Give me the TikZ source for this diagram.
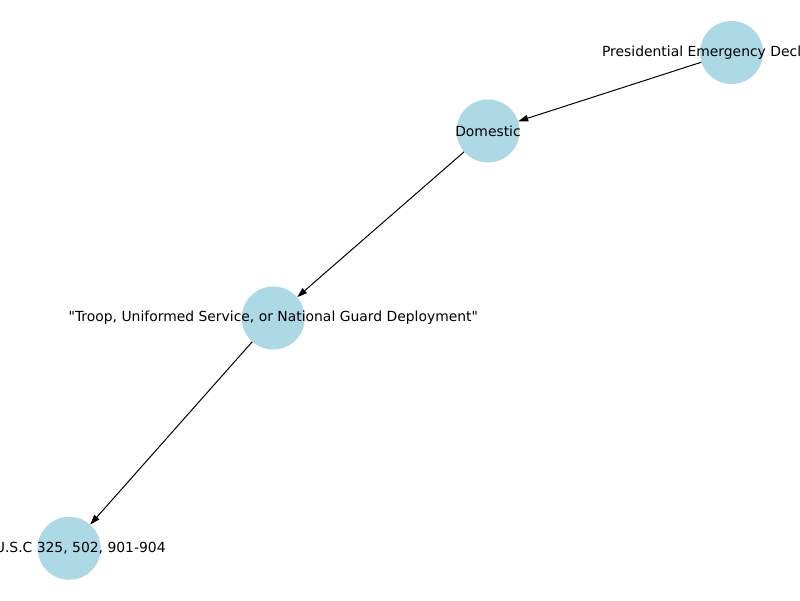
\documentclass[tikz,border=0pt]{standalone}
\usepackage{fontspec}
\setmainfont{DejaVu Sans}[Ligatures=TeXOff]
\usetikzlibrary{arrows.meta}
\definecolor{nodeblue}{HTML}{ADD8E6}
\tikzset{
  gnode/.style={circle, fill=nodeblue, draw=none, minimum size=63pt, inner sep=0pt},
  glabel/.style={font=\fontsize{13.9}{16}\selectfont, text=black, inner sep=0pt},
  gedge/.style={draw=black, line width=1pt, -{Triangle[length=10pt,width=6.5pt]}},
}
\begin{document}
\begin{tikzpicture}[x=1pt,y=-1pt]
\useasboundingbox (0,0) rectangle (800,600);
\fill[white] (0,0) rectangle (800,600);
\clip (0,0) rectangle (800,600);
\node[gnode] (p) at (731.5,52.5) {};
\node[gnode] (d) at (488,131) {};
\node[gnode] (t) at (273.3,318) {};
\node[gnode] (u) at (69.2,548.3) {};
\draw[gedge] (p) -- (d);
\draw[gedge] (d) -- (t);
\draw[gedge] (t) -- (u);
\node[glabel, xshift=-1.6pt] (pl) at (p.center) {Presidential Emergency Declarations};
\node[glabel] (dl) at (d.center) {Domestic};
\node[glabel] (tl) at (t.center) {"Troop, Uniformed Service, or National Guard Deployment"};
\node[glabel] (ul) at (u.center) {32 U.S.C 325, 502, 901-904};
\end{tikzpicture}
\end{document}
